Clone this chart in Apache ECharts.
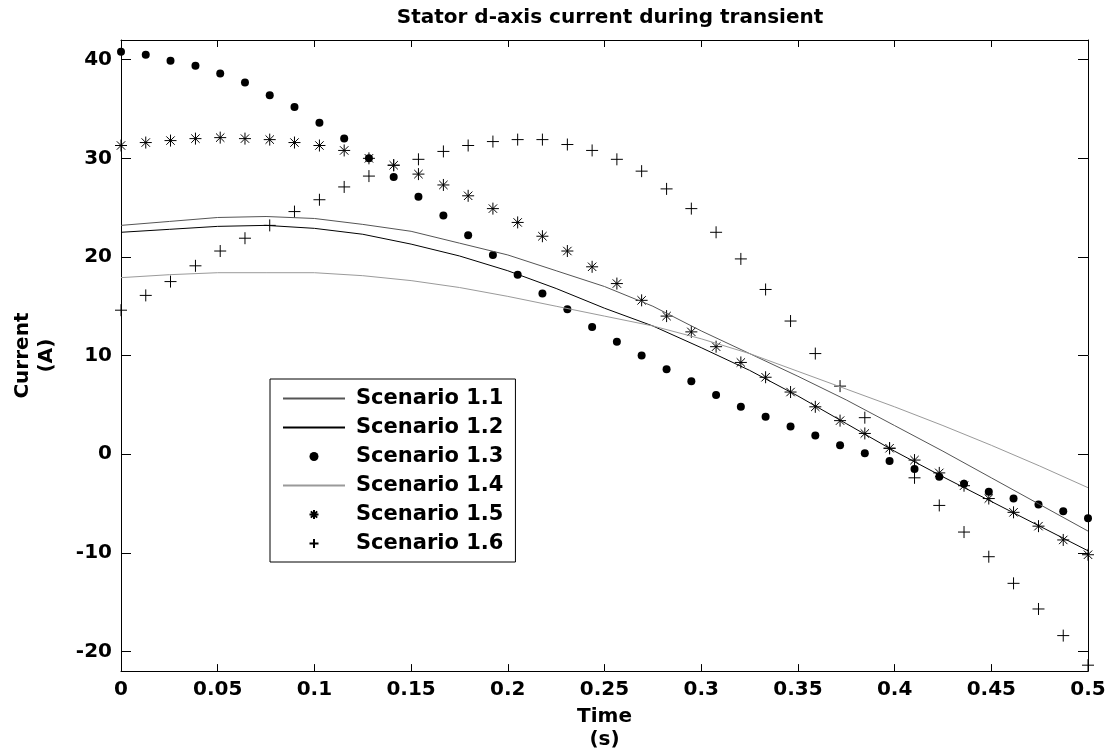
<!DOCTYPE html>
<html>
<head>
<meta charset="utf-8">
<title>Stator d-axis current during transient</title>
<script src="https://cdn.jsdelivr.net/npm/echarts@6.0.0/dist/echarts.min.js"></script>
<style>
  html, body { margin: 0; padding: 0; background: #fff; }
  #chart { width: 1119px; height: 756px; }
</style>
</head>
<body>
<div id="chart"></div>
<script>
// time axis of the line traces (s)
const lineTimes = [0, 0.025, 0.05, 0.075, 0.1, 0.125, 0.15, 0.175, 0.2, 0.225, 0.25,
  0.275, 0.3, 0.325, 0.35, 0.375, 0.4, 0.425, 0.45, 0.475, 0.5];
// time axis of the marker traces (s)
const markTimes = [0, 0.0128, 0.0256, 0.0385, 0.0513, 0.0641, 0.0769, 0.0897, 0.1026, 0.1154,
  0.1282, 0.141, 0.1538, 0.1667, 0.1795, 0.1923, 0.2051, 0.2179, 0.2308, 0.2436,
  0.2564, 0.2692, 0.2821, 0.2949, 0.3077, 0.3205, 0.3333, 0.3462, 0.359, 0.3718,
  0.3846, 0.3974, 0.4103, 0.4231, 0.4359, 0.4487, 0.4615, 0.4744, 0.4872, 0.5];

const scen11 = [23.2, 23.6, 24.0, 24.1, 23.9, 23.3, 22.6, 21.4, 20.2, 18.6, 17.0,
  15.0, 12.5, 10.2, 7.9, 5.5, 2.9, 0.3, -2.4, -5.1, -7.8];
const scen12 = [22.5, 22.8, 23.1, 23.2, 22.9, 22.3, 21.3, 20.1, 18.6, 16.8, 14.8,
  13.0, 10.8, 8.5, 5.9, 3.1, 0.3, -2.3, -4.8, -7.3, -9.8];
const scen14 = [17.9, 18.2, 18.4, 18.4, 18.4, 18.1, 17.6, 16.9, 16.0, 15.0, 14.0,
  13.0, 11.7, 10.2, 8.4, 6.6, 4.8, 2.9, 0.9, -1.2, -3.4];

const scen13 = [40.8, 40.5, 39.9, 39.4, 38.6, 37.7, 36.4, 35.2, 33.6, 32.0,
  30.0, 28.1, 26.1, 24.2, 22.2, 20.2, 18.2, 16.3, 14.7, 12.9,
  11.4, 10.0, 8.6, 7.4, 6.0, 4.8, 3.8, 2.8, 1.9, 0.9,
  0.1, -0.7, -1.5, -2.3, -3.0, -3.8, -4.5, -5.1, -5.8, -6.5];
const scen15 = [31.3, 31.6, 31.8, 32.0, 32.1, 32.0, 31.9, 31.6, 31.3, 30.8,
  30.0, 29.3, 28.4, 27.3, 26.2, 24.9, 23.5, 22.1, 20.6, 19.0,
  17.3, 15.6, 14.0, 12.4, 10.9, 9.3, 7.8, 6.3, 4.8, 3.4,
  2.1, 0.6, -0.6, -1.9, -3.2, -4.5, -5.9, -7.3, -8.7, -10.2];
const scen16 = [14.6, 16.1, 17.5, 19.1, 20.6, 21.9, 23.2, 24.6, 25.8, 27.1,
  28.2, 29.3, 29.9, 30.7, 31.3, 31.7, 31.9, 31.9, 31.4, 30.8,
  29.9, 28.7, 26.9, 24.9, 22.5, 19.8, 16.7, 13.5, 10.2, 6.9,
  3.7, 0.6, -2.4, -5.2, -7.9, -10.4, -13.1, -15.7, -18.4, -21.4];

const yTicks = [-20, -10, 0, 10, 20, 30, 40];

const FONT = '"DejaVu Sans", Verdana, sans-serif';
const pair = (xs, ys) => xs.map((x, i) => [x, ys[i]]);

const asteriskPath = 'path://M0,-6L0,6M-6,0L6,0M-4.2,-4.2L4.2,4.2M-4.2,4.2L4.2,-4.2';
const plusPath = 'path://M0,-6L0,6M-6,0L6,0';

function lineSeries(name, data, color) {
  return {
    name: name, type: 'line', data: pair(lineTimes, data),
    symbol: 'none', smooth: false,
    lineStyle: { color: color, width: 1 },
    itemStyle: { color: color }
  };
}
function markSeries(name, data, symbol, size, filled) {
  return {
    name: name, type: 'scatter', data: pair(markTimes, data),
    symbol: symbol, symbolSize: size,
    itemStyle: filled
      ? { color: '#000', opacity: 1 }
      : { color: 'rgba(0,0,0,0)', borderColor: '#000', borderWidth: 1, opacity: 1 }
  };
}

// legend entries of plain lines: hide the dot echarts puts on the line icon
const noDot = { opacity: 0 };

const chart = echarts.init(document.getElementById('chart'));
chart.setOption({
  animation: false,
  backgroundColor: '#fff',
  textStyle: { fontFamily: FONT },
  title: {
    text: 'Stator d-axis current during transient',
    left: 605, top: 3, textAlign: 'center',
    textStyle: { fontFamily: FONT, fontSize: 20, fontWeight: 'bold', color: '#000' }
  },
  grid: { left: 121, right: 31, top: 40, bottom: 82 },
  legend: {
    orient: 'vertical', left: 270, top: 379,
    padding: [9, 12, 8, 12],
    itemWidth: 62, itemHeight: 9, itemGap: 8,
    backgroundColor: '#fff', borderColor: '#000', borderWidth: 1, borderRadius: 0,
    textStyle: { fontFamily: FONT, fontSize: 21, fontWeight: 'bold', color: '#000', lineHeight: 20,
      padding: [0, 0, 0, 6] },
    data: [
      { name: 'Scenario 1.1', itemStyle: noDot },
      { name: 'Scenario 1.2', itemStyle: noDot },
      'Scenario 1.3',
      { name: 'Scenario 1.4', itemStyle: noDot },
      'Scenario 1.5',
      'Scenario 1.6'
    ]
  },
  xAxis: [{
    type: 'value', min: 0, max: 0.5, interval: 0.05,
    name: 'Time\n(s)', nameLocation: 'middle', nameGap: 33,
    nameTextStyle: { fontFamily: FONT, fontSize: 20, fontWeight: 'bold', color: '#000', lineHeight: 23 },
    axisLine: { show: true, onZero: false, lineStyle: { color: '#000', width: 1 } },
    axisTick: { show: true, inside: true, length: 7, lineStyle: { color: '#000' } },
    axisLabel: { fontFamily: FONT, fontSize: 20, fontWeight: 'bold', color: '#000', margin: 9,
      formatter: v => String(+v.toFixed(2)) },
    splitLine: { show: false }
  }, {
    type: 'value', min: 0, max: 0.5, interval: 0.05, position: 'top',
    axisLine: { show: true, onZero: false, lineStyle: { color: '#000', width: 1 } },
    axisTick: { show: true, inside: true, length: 7, lineStyle: { color: '#000' } },
    axisLabel: { show: false }, splitLine: { show: false }
  }],
  yAxis: [{
    type: 'value', min: -22, max: 42,
    name: 'Current\n(A)', nameLocation: 'middle', nameGap: 62, nameRotate: 90,
    nameTextStyle: { fontFamily: FONT, fontSize: 20, fontWeight: 'bold', color: '#000', lineHeight: 24 },
    axisLine: { show: true, onZero: false, lineStyle: { color: '#000', width: 1 } },
    axisTick: { show: true, inside: true, length: 10, customValues: yTicks, lineStyle: { color: '#000' } },
    axisLabel: { fontFamily: FONT, fontSize: 20, fontWeight: 'bold', color: '#000', margin: 9,
      customValues: yTicks },
    splitLine: { show: false }
  }, {
    type: 'value', min: -22, max: 42, position: 'right',
    axisLine: { show: true, onZero: false, lineStyle: { color: '#000', width: 1 } },
    axisTick: { show: true, inside: true, length: 10, customValues: yTicks, lineStyle: { color: '#000' } },
    axisLabel: { show: false }, splitLine: { show: false }
  }],
  series: [
    lineSeries('Scenario 1.1', scen11, '#555'),
    lineSeries('Scenario 1.2', scen12, '#000'),
    markSeries('Scenario 1.3', scen13, 'circle', 8, true),
    lineSeries('Scenario 1.4', scen14, '#9a9a9a'),
    markSeries('Scenario 1.5', scen15, asteriskPath, 12, false),
    markSeries('Scenario 1.6', scen16, plusPath, 12, false)
  ]
});
</script>
</body>
</html>
